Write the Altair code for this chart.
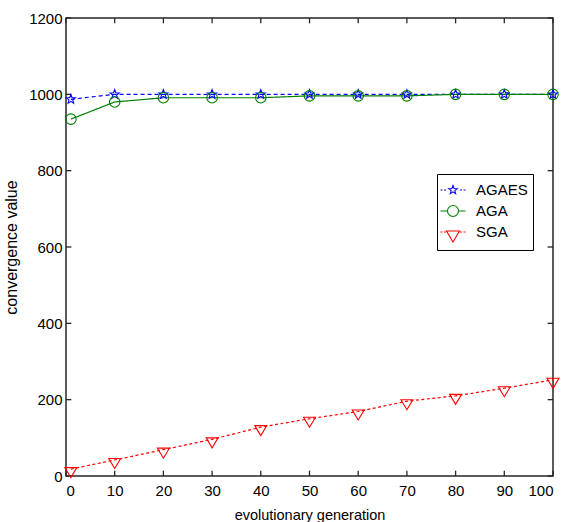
import math
import altair as alt
import pandas as pd

# ---------------- data ----------------
generations = [1, 10, 20, 30, 40, 50, 60, 70, 80, 90, 100]
agaes = [987, 1000, 1000, 1000, 1000, 1000, 1000, 1000, 1000, 1000, 1000]
aga = [935, 980, 991, 991, 991, 996, 996, 996, 1000, 1000, 1000]
sga = [18, 42, 69, 96, 128, 150, 169, 196, 210, 230, 252]
series_names = ["AGAES", "AGA", "SGA"]
series_colors = ["#0000ff", "#008000", "#ff0000"]
x_ticks = list(range(0, 101, 10))
y_ticks = list(range(0, 1201, 200))

rows = []
for name, vals in zip(series_names, [agaes, aga, sga]):
    for g, v in zip(generations, vals):
        rows.append({"gen": g, "value": v, "series": name})
df = pd.DataFrame(rows)

FONT = "Liberation Sans, Arial, sans-serif"
FRAME = "#262626"


# ---------------- marker paths ----------------
def star(r_out, r_in, cy=0.0):
    pts = []
    for k in range(10):
        a = math.radians(-90 + 36 * k)
        r = r_out if k % 2 == 0 else r_in
        pts.append(f"{r * math.cos(a):.3f},{r * math.sin(a) + cy:.3f}")
    return "M" + " L".join(pts) + " Z"


def circle(r):
    return f"M{r},0 A{r},{r} 0 1,1 {-r},0 A{r},{r} 0 1,1 {r},0 Z"


def tri_down(hw, top, bottom):
    return f"M{-hw},{top} L{hw},{top} L0,{bottom} Z"


def dashes(segs):
    return " ".join(f"M{a},0 L{b},0" for a, b in segs)


dash_segs = [(-1.25, -1.05), (-0.9, -0.7), (0.7, 0.9), (1.05, 1.25)]
plot_paths = [star(0.95, 0.4), circle(1.05), tri_down(1.2, -0.3, 1.7)]
legend_paths = [
    dashes(dash_segs) + " " + star(0.45, 0.19),
    dashes([(-1.25, -0.55), (0.55, 1.25)]) + " " + circle(0.55),
    dashes(dash_segs) + " " + tri_down(0.65, -0.1, 1.0),
]

x_scale = alt.Scale(domain=[0, 100], nice=False, zero=False)
y_scale = alt.Scale(domain=[0, 1200], nice=False)
color_scale = alt.Scale(domain=series_names, range=series_colors)

x_axis = alt.Axis(
    values=x_ticks, format="d", ticks=False, domain=False, grid=False,
    labelFont=FONT, labelFontSize=15, labelColor="black", labelPadding=7,
    title="evolutionary generation", titleFont=FONT, titleFontSize=14.5,
    titleFontWeight="normal", titleColor="black", titlePadding=10,
)
y_axis = alt.Axis(
    values=y_ticks, format="d", ticks=False, domain=False, grid=False,
    labelFont=FONT, labelFontSize=15, labelColor="black", labelPadding=4,
    title="convergence value", titleFont=FONT, titleFontSize=16,
    titleFontWeight="normal", titleColor="black", titlePadding=9,
)

base = alt.Chart(df)

lines = base.mark_line(strokeWidth=1.2).encode(
    x=alt.X("gen:Q", scale=x_scale, axis=x_axis),
    y=alt.Y("value:Q", scale=y_scale, axis=y_axis),
    color=alt.Color("series:N", scale=color_scale, legend=None),
    strokeDash=alt.StrokeDash(
        "series:N",
        scale=alt.Scale(domain=series_names, range=[[4, 3], [1, 0], [3, 2.5]]),
        legend=None,
    ),
    detail="series:N",
)

points = base.mark_point(filled=False, strokeWidth=1.1, size=100, opacity=1).encode(
    x=alt.X("gen:Q", scale=x_scale),
    y=alt.Y("value:Q", scale=y_scale),
    color=alt.Color("series:N", scale=color_scale, legend=None),
    shape=alt.Shape("series:N", scale=alt.Scale(domain=series_names, range=plot_paths), legend=None),
)

legend_def = alt.Legend(
    title=None, orient="none", legendX=371, legendY=156,
    fillColor="white", strokeColor="black", padding=5,
    symbolSize=400, symbolStrokeWidth=1.1, symbolOpacity=1,
    labelFont=FONT, labelFontSize=15, labelColor="black", labelOffset=12,
    rowPadding=2, cornerRadius=0,
)

legend_layer = base.transform_filter(alt.datum.gen < 0).transform_calculate(
    label="datum.series"
).mark_point(filled=False).encode(
    x=alt.X("gen:Q", scale=x_scale),
    y=alt.Y("value:Q", scale=y_scale),
    color=alt.Color("label:N", scale=alt.Scale(domain=series_names, range=series_colors), legend=legend_def),
    shape=alt.Shape("label:N", scale=alt.Scale(domain=series_names, range=legend_paths), legend=legend_def),
)

# inward ticks on all four sides
xt = alt.Chart(pd.DataFrame({"t": x_ticks}))
yt = alt.Chart(pd.DataFrame({"t": y_ticks}))
tick_style = dict(color=FRAME, strokeWidth=1.3)
bottom_ticks = xt.mark_rule(**tick_style).encode(
    x=alt.X("t:Q", scale=x_scale), y=alt.datum(0), y2=alt.datum(14))
top_ticks = xt.mark_rule(**tick_style).encode(
    x=alt.X("t:Q", scale=x_scale), y=alt.datum(1200), y2=alt.datum(1186))
left_ticks = yt.mark_rule(**tick_style).encode(
    y=alt.Y("t:Q", scale=y_scale), x=alt.datum(0), x2=alt.datum(1.1))
right_ticks = yt.mark_rule(**tick_style).encode(
    y=alt.Y("t:Q", scale=y_scale), x=alt.datum(100), x2=alt.datum(98.9))

chart = alt.layer(
    bottom_ticks, top_ticks, left_ticks, right_ticks, lines, points, legend_layer
).resolve_scale(
    color="independent", shape="independent", strokeDash="independent"
).properties(
    width=487, height=458,
    autosize=alt.AutoSizeParams(type="none"),
    padding={"left": 66, "top": 18, "right": 15, "bottom": 46},
    background="white",
).configure_view(stroke=FRAME, strokeWidth=1.5)

chart.save("out.html", embed_options={"renderer": "svg", "actions": False})
